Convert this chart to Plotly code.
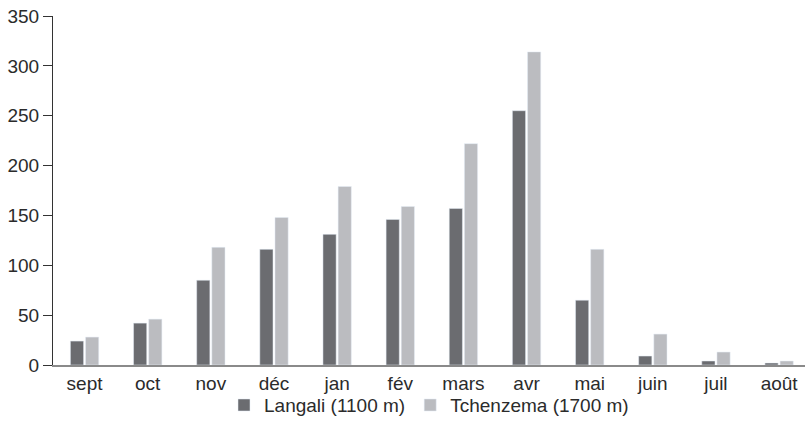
import plotly.graph_objects as go

MONTHS = ["sept", "oct", "nov", "déc", "jan", "fév", "mars", "avr", "mai", "juin", "juil", "août"]
LANGALI = [24, 42, 85, 116, 131, 146, 157, 255, 65, 9, 4, 2]
TCHENZEMA = [28, 46, 118, 148, 179, 159, 222, 314, 116, 31, 13, 4]

DARK = "#6b6c70"
LIGHT = "#bbbcc0"
TEXT = "#2b2b2b"

fig = go.Figure()
fig.add_trace(go.Bar(x=MONTHS, y=LANGALI, name="Langali (1100 m)", marker_color=DARK))
fig.add_trace(go.Bar(x=MONTHS, y=TCHENZEMA, name="Tchenzema (1700 m)", marker_color=LIGHT))

fig.update_layout(
    width=805,
    height=438,
    margin={"l": 53, "r": 0, "t": 16, "b": 73, "autoexpand": False},
    plot_bgcolor="white",
    paper_bgcolor="white",
    font={"family": "Liberation Sans, Arial, sans-serif", "size": 19, "color": TEXT},
    barmode="group",
    bargap=0.52,
    bargroupgap=0.13,
    legend={
        "orientation": "h",
        "x": 0.5,
        "xanchor": "center",
        "y": -0.115,
        "yanchor": "middle",
        "bgcolor": "rgba(0,0,0,0)",
        "font": {"size": 19},
        "itemwidth": 30,
    },
)
fig.update_xaxes(
    range=[-0.5, 11.41],
    showline=True,
    linecolor="#8a8a8a",
    linewidth=2,
    ticks="",
    showgrid=False,
    automargin=False,
    tickfont={"size": 19},
)
fig.update_yaxes(
    range=[0, 350],
    dtick=50,
    showline=True,
    linecolor="#333333",
    linewidth=1,
    ticks="outside",
    ticklen=9,
    tickcolor="#333333",
    showgrid=False,
    zeroline=False,
    automargin=False,
    tickfont={"size": 19},
)

# page body has a default 8px margin, drop it so the figure sits at the window origin
fig.write_html(
    "out.html",
    config={"displayModeBar": False},
    post_script="document.body.style.margin='0';document.body.style.overflow='hidden';",
)
